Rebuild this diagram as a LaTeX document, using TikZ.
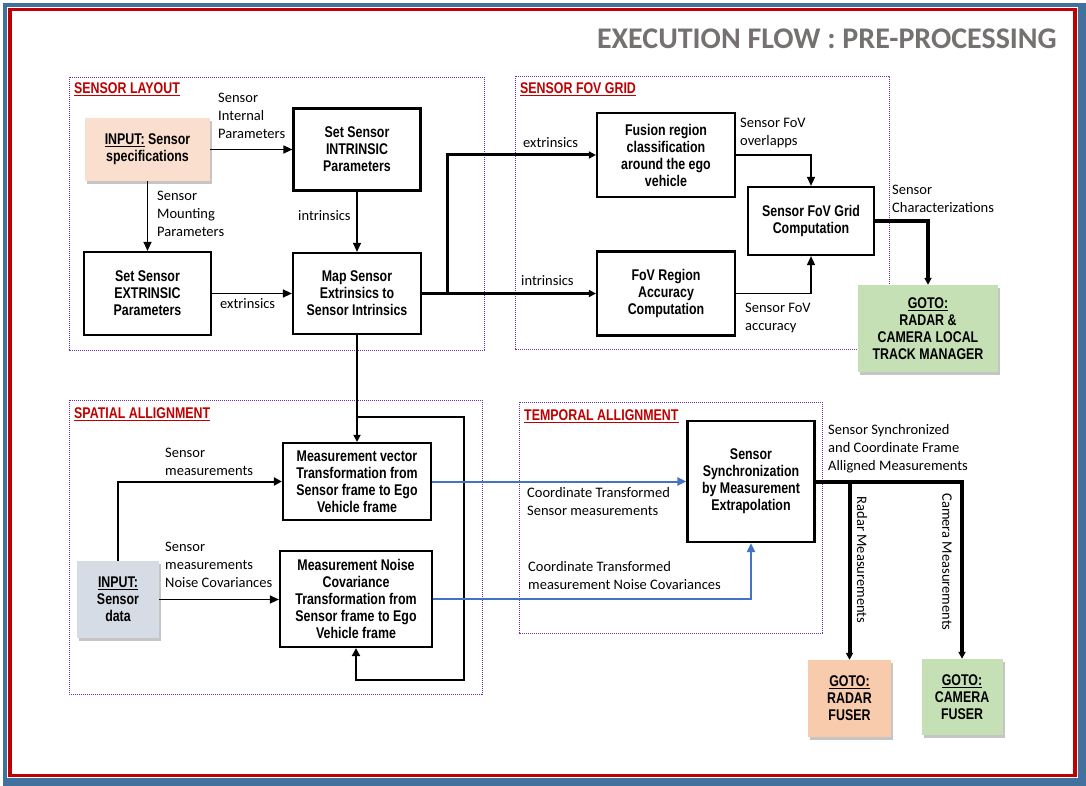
\documentclass[tikz,border=0pt]{standalone}
\usepackage{fontspec}
\setmainfont{Carlito}
\newfontfamily\boxfont[FakeStretch=0.8]{Liberation Sans}
\usetikzlibrary{arrows.meta,shadows}
\tikzset {>=Triangle}

\definecolor{frameblue}{HTML}{41719C}
\definecolor{framered}{HTML}{C00000}
\definecolor{titlegray}{HTML}{767171}
\definecolor{grouppurple}{HTML}{7030A0}
\definecolor{specpeach}{HTML}{FADFCE}
\definecolor{radarpeach}{HTML}{F8CBAD}
\definecolor{gotogreen}{HTML}{C5E0B4}
\definecolor{datablue}{HTML}{D6DCE5}
\definecolor{linkblue}{HTML}{4472C4}

\tikzset{
  blk/.style={draw, line width=2.2pt, align=center, inner sep=2pt,
    font=\boxfont\bfseries\fontsize{15.5}{17}\selectfont},
  io/.style={align=center, inner sep=2pt,
    font=\boxfont\bfseries\fontsize{15.5}{17}\selectfont,
    drop shadow={opacity=0.45, shadow xshift=2pt, shadow yshift=-3pt}},
  lbl/.style={anchor=west, align=left, inner sep=0pt,
    font=\fontsize{14.5}{18}\selectfont},
  grp/.style={draw=grouppurple, line width=0.7pt, dash pattern=on 1.2pt off 0.8pt},
  grptitle/.style={anchor=west, inner sep=0pt, text=framered,
    font=\boxfont\bfseries\fontsize{15.5}{17}\selectfont},
  thinln/.style={->, line width=1.2pt, >={Triangle[length=9pt,width=8pt]}},
  thickln/.style={->, line width=3pt, >={Triangle[length=7pt,width=7pt]}},
  midln/.style={->, line width=2pt, >={Triangle[length=8pt,width=8pt]}},
  blueln/.style={->, line width=2pt, draw=linkblue,
    >={Triangle[length=9pt,width=8pt,fill=linkblue]}}
}

\begin{document}
\begin{tikzpicture}[x=1pt,y=-1pt]
\useasboundingbox (0,0) rectangle (1086,786);
% frame
\fill[white] (0,0) rectangle (1086,786);
\fill[frameblue] (3,3) rectangle (1086,786);
\fill[white] (7,7) rectangle (1078,778);
\draw[framered, line width=3.5pt] (10,9.5) rectangle (1075,775.5);
\node[anchor=east, inner sep=0pt, text=titlegray, font=\bfseries\fontsize{30}{34}\selectfont]
  (title) at (1057,39) {EXECUTION FLOW : PRE-PROCESSING};

% groups
\draw[grp] (69,77) rectangle (484,350);
\draw[grp] (515,76) rectangle (889,349);
\draw[grp] (69,400) rectangle (482,694);
\draw[grp] (519,402) rectangle (822,633);
\node[grptitle] (tlayout) at (74,89) {\underline{SENSOR LAYOUT}};
\node[grptitle] (tgrid) at (520,89) {\underline{SENSOR FOV GRID}};
\node[grptitle] (tspatial) at (74,414) {\underline{SPATIAL ALLIGNMENT}};
\node[grptitle] (ttemporal) at (524,416) {\underline{TEMPORAL ALLIGNMENT}};

% sensor layout
\node[io, fill=specpeach, minimum width=125pt, minimum height=63pt] (spec) at (147.5,149.5)
  {\underline{INPUT:} Sensor\\specifications};
\node[blk, minimum width=127pt, minimum height=82pt] (intr) at (357,149.5)
  {Set Sensor\\INTRINSIC\\Parameters};
\node[blk, minimum width=127pt, minimum height=83pt] (extr) at (147.5,293.5)
  {Set Sensor\\EXTRINSIC\\Parameters};
\node[blk, minimum width=128pt, minimum height=81pt] (map) at (357,293.5)
  {Map Sensor\\Extrinsics to\\Sensor Intrinsics};

% sensor fov grid
\node[blk, minimum width=138pt, minimum height=84pt] (fusion) at (666,155)
  {Fusion region\\classification\\around the ego\\vehicle};
\node[blk, minimum width=138pt, minimum height=84pt] (fovacc) at (666,293.5)
  {FoV Region\\Accuracy\\Computation};
\node[blk, minimum width=126pt, minimum height=68pt] (grid) at (811,221)
  {Sensor FoV Grid\\Computation};
\node[io, fill=gotogreen, minimum width=140pt, minimum height=87pt] (tracker) at (928,328.5)
  {\underline{GOTO:}\\RADAR \&\\CAMERA LOCAL\\TRACK MANAGER};

% spatial allignment
\node[blk, minimum width=148pt, minimum height=77pt] (mvec) at (357,481.5)
  {Measurement vector\\Transformation from\\Sensor frame to Ego\\Vehicle frame};
\node[blk, minimum width=152pt, minimum height=96pt] (mnoise) at (356,599)
  {Measurement Noise\\Covariance\\Transformation from\\Sensor frame to Ego\\Vehicle frame};
\node[io, fill=datablue, minimum width=82pt, minimum height=77pt] (sdata) at (118,599.5)
  {\underline{INPUT:}\\Sensor\\data};

% temporal allignment
\node[blk, minimum width=127pt, minimum height=121pt] (sync) at (751,481.5)
  {Sensor\\Synchronization\\by Measurement\\Extrapolation};
\node[io, fill=radarpeach, minimum width=83pt, minimum height=77pt] (radar) at (849.5,698.5)
  {\underline{GOTO:}\\RADAR\\FUSER};
\node[io, fill=gotogreen, minimum width=81pt, minimum height=76pt] (camera) at (962,697)
  {\underline{GOTO:}\\CAMERA\\FUSER};

% connectors: sensor layout
\draw[thinln] (spec.east) -- (spec.east -| intr.west);
\draw[thinln] (spec.south) -- (extr.north);
\draw[thinln] (intr.south) -- (map.north);
\draw[thinln] (extr.east) -- (map.west);
\node[lbl] (lint) at (218,116) {Sensor\\Internal\\Parameters};
\node[lbl] (lmount) at (157,214) {Sensor\\Mounting\\Parameters};
\node[lbl] (lintr1) at (298,216) {intrinsics};
\node[lbl] (lextr1) at (220,304) {extrinsics};

% connectors: fov grid
\coordinate (split) at ([xshift=25pt]map.east);
\draw[thickln] (map.east) -- (fovacc.west);
\draw[thickln] (split) |- (fusion.west);
\draw[thinln, line width=1.5pt] (fusion.east) -| (grid.north);
\draw[thinln, line width=1.5pt] (fovacc.east) -| (grid.south);
\draw[thickln, line width=4pt] (grid.east) -| (tracker.north);
\node[lbl] (lextr2) at (523,143) {extrinsics};
\node[lbl] (lintr2) at (521,281) {intrinsics};
\node[lbl] (lover) at (740,132.5) {Sensor FoV\\overlapps};
\node[lbl] (lacc) at (745,317.5) {Sensor FoV\\accuracy};
\node[lbl] (lchar) at (892,199) {Sensor\\Characterizations};

% connectors: spatial allignment
\coordinate (loopsplit) at (map.south |- 0,417);
\coordinate (loopend) at (464,680);
\draw[thickln, line width=2.5pt] (map.south) -- (mvec.north);
\draw[midln] (loopsplit) -| (loopend) -| (mnoise.south);
\draw[midln] (sdata.north) |- (mvec.west);
\draw[thinln] (sdata.east) -- (sdata.east -| mnoise.west);
\node[lbl] (lmeas) at (165,461.5) {Sensor\\measurements};
\node[lbl] (lnoise) at (165,564.5) {Sensor\\measurements\\Noise Covariances};

% connectors: temporal allignment
\draw[blueln] (mvec.east) -- (sync.west);
\draw[blueln] (mnoise.east) -| (sync.south);
\draw[thickln, line width=4pt] (sync.east) -| (camera.north);
\draw[thickln, line width=4pt] (sync.east -| radar.north) -- (radar.north);
\node[lbl] (lcoord1) at (527,502) {Coordinate Transformed\\Sensor measurements};
\node[lbl] (lcoord2) at (528,576) {Coordinate Transformed\\measurement Noise Covariances};
\node[lbl] (lsynced) at (828,448.5) {Sensor Synchronized\\and Coordinate Frame\\Alligned Measurements};
\node[lbl, anchor=center, rotate=-90] (lradar) at (862,560) {Radar Measurements};
\node[lbl, anchor=center, rotate=-90] (lcam) at (947,562) {Camera Measurements};
\end{tikzpicture}
\end{document}
